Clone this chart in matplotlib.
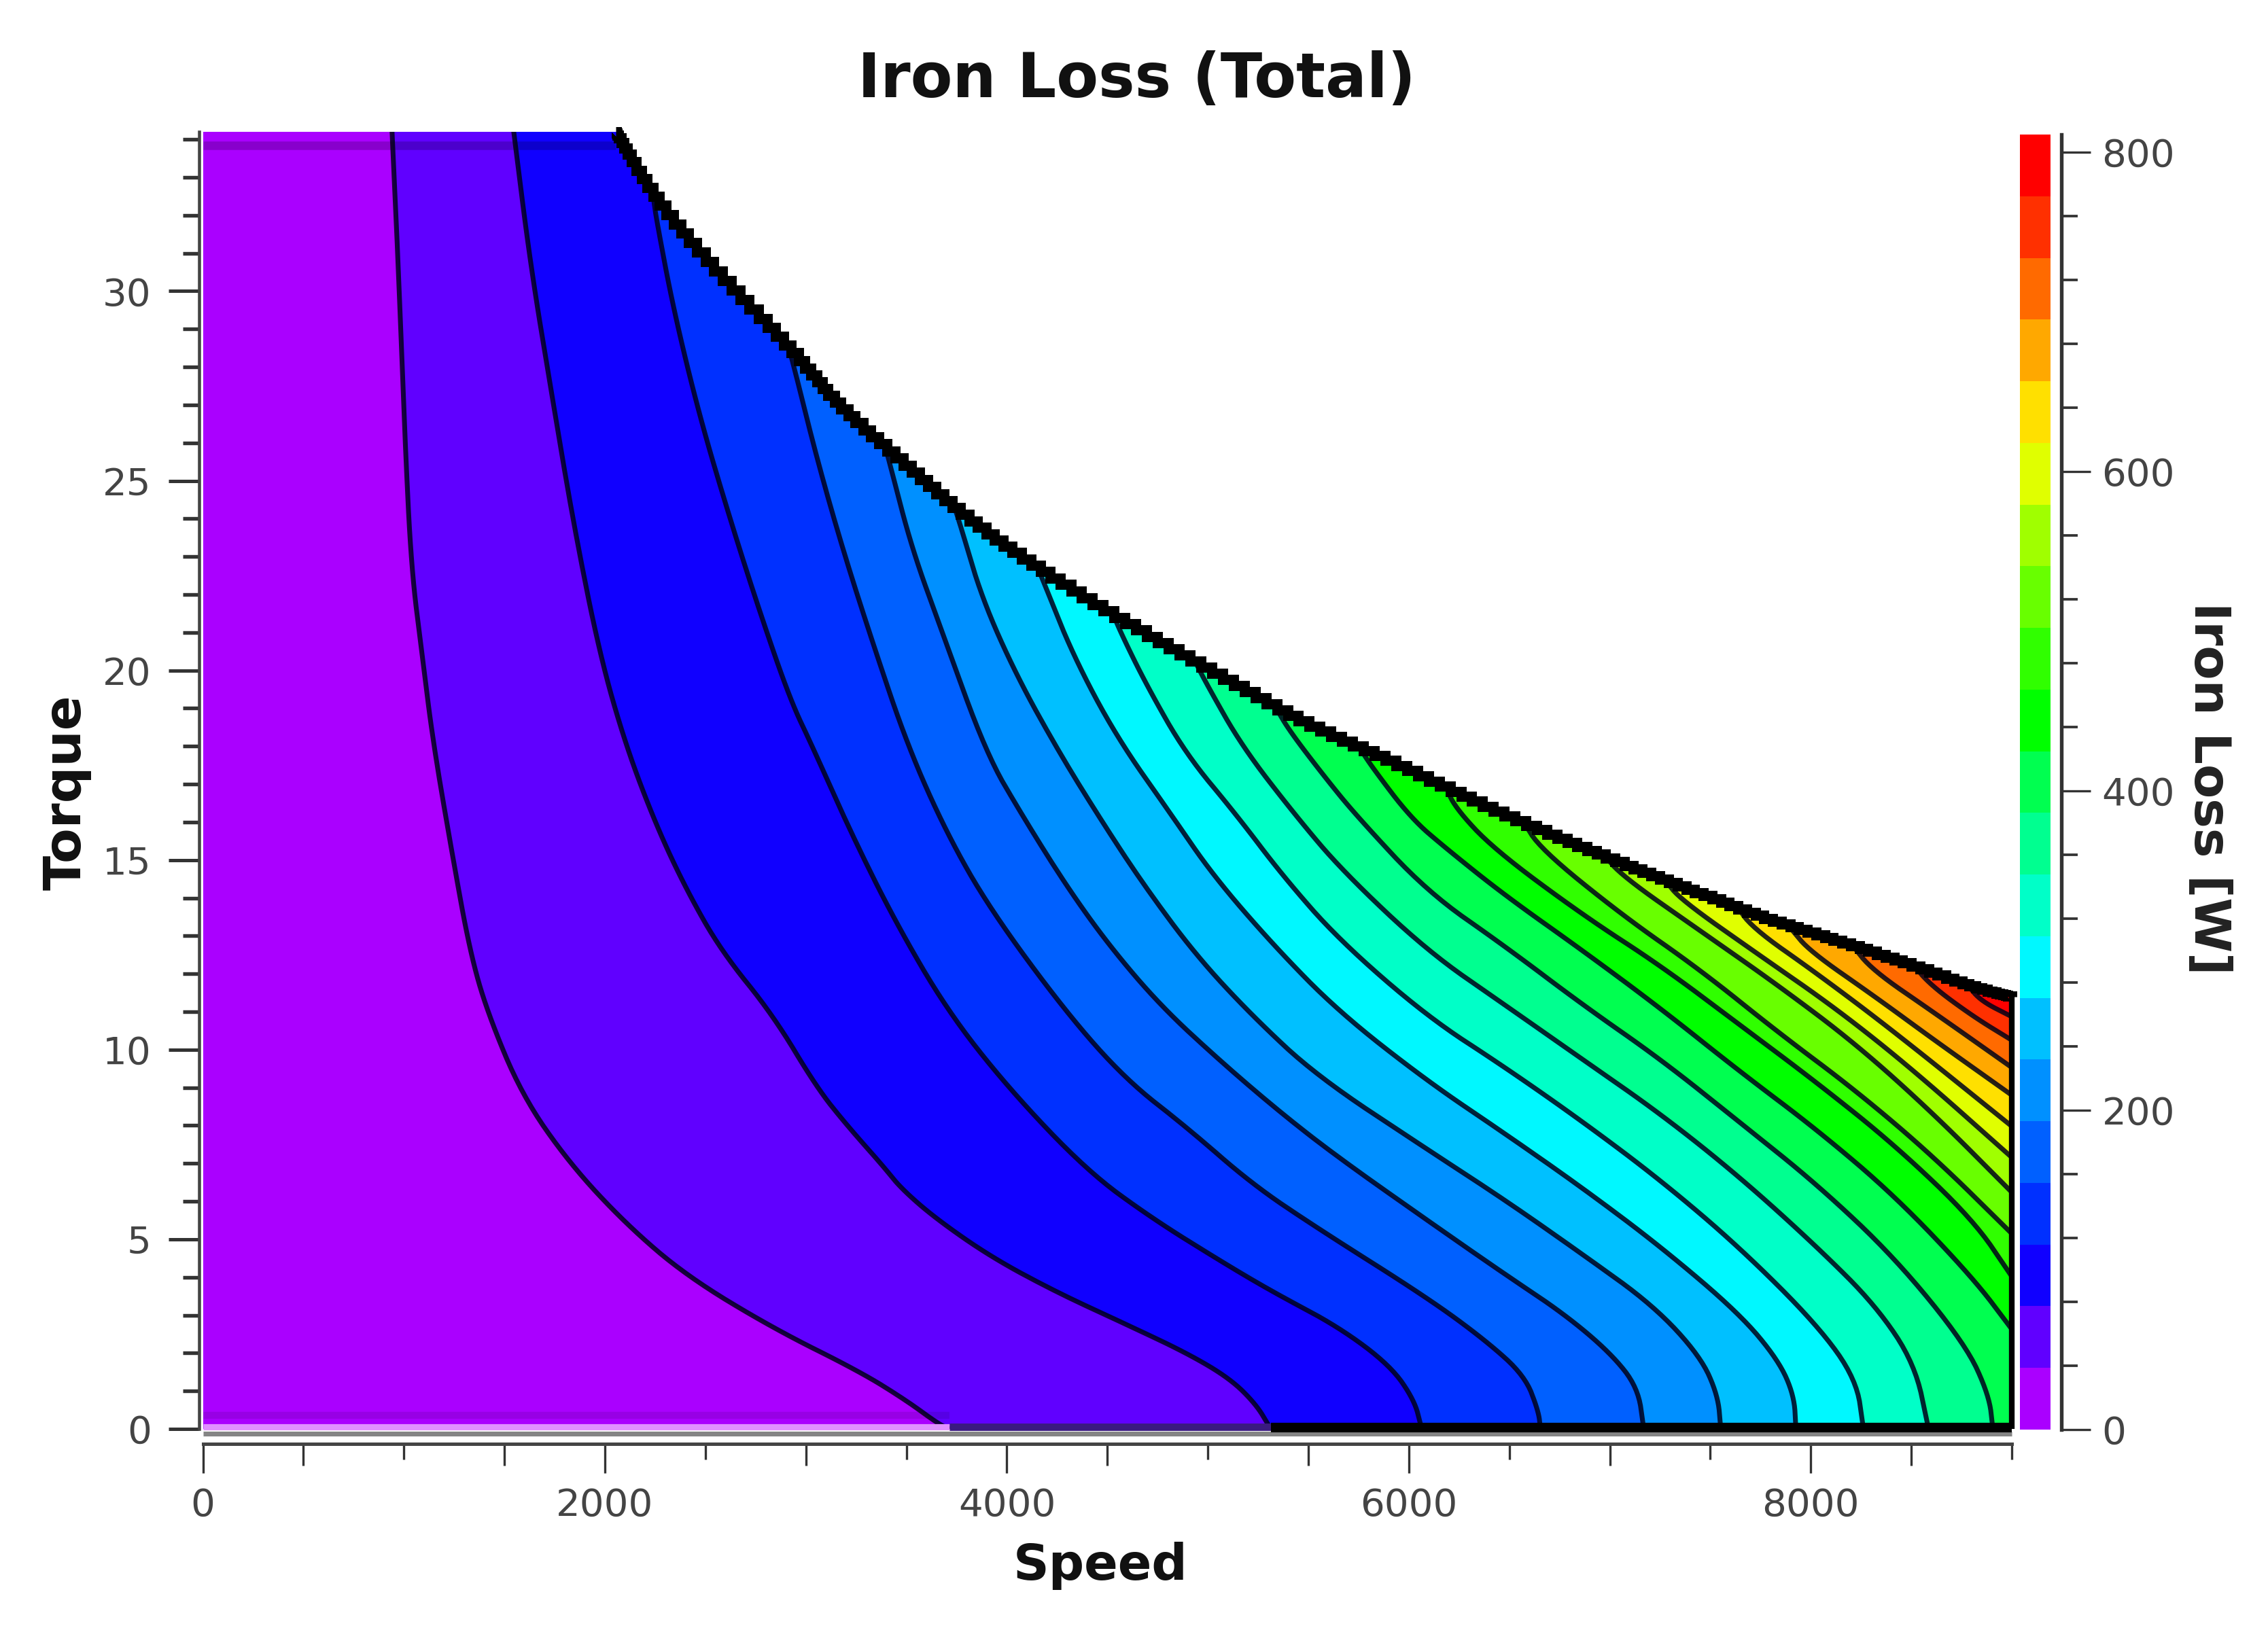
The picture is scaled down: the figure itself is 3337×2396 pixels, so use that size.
import numpy as np
import matplotlib
matplotlib.use("Agg")
import matplotlib.pyplot as plt
from matplotlib.colors import ListedColormap
from matplotlib.patches import Polygon

# contour lines, (speed, torque), top to bottom
line_01 = [(940, 34.3), (972, 30.67), (1005, 26.1), (1037, 22.67), (1091, 20.4), (1145, 18.1), (1242, 15.1), (1328, 12.6), (1414, 11), (1587, 8.8), (1824, 7), (2105, 5.4), (2407, 4.03), (2838, 2.65), (3269, 1.51), (3500, 0.75), (3657, 0.14), (3715, 0)]
line_02 = [(1544, 34.3), (1630, 30.67), (1738, 27.2), (1846, 23.8), (1975, 20.4), (2105, 18), (2256, 15.9), (2407, 14.2), (2579, 12.6), (2838, 10.9), (3054, 9), (3205, 8), (3386, 6.92), (3472, 6.35), (3645, 5.55), (3925, 4.52), (4249, 3.6), (4572, 2.81), (4896, 2), (5112, 1.32), (5241, 0.64), (5306, 0.06), (5315, 0)]
line_03 = [(2240, 32.5), (2256, 31.9), (2342, 29.5), (2471, 26.7), (2622, 24), (2773, 21.5), (2924, 19.2), (3032, 18), (3226, 15.7), (3442, 13.4), (3701, 11.05), (4005, 9), (4400, 6.8), (4723, 5.55), (5068, 4.41), (5327, 3.6), (5651, 2.69), (5910, 1.66), (6028, 0.75), (6061, 0.06), (6065, 0)]
line_04 = [(2905, 28.7), (2946, 27.9), (3054, 25.6), (3183, 23.2), (3334, 20.7), (3507, 18), (3701, 15.7), (3917, 13.7), (4292, 11), (4594, 9.2), (4896, 7.95), (5219, 6.46), (5543, 5.3), (6092, 3.46), (6383, 2.33), (6577, 1.4), (6645, 0.47), (6655, 0)]
line_05 = [(3380, 26.2), (3420, 25.4), (3528, 23.2), (3679, 21), (3898, 17.8), (4076, 16.18), (4292, 14.35), (4508, 12.75), (4766, 11.15), (5068, 9.67), (5371, 8.3), (5651, 7.15), (6092, 5.5), (6480, 4.07), (6771, 3.04), (7004, 2), (7140, 1.09), (7169, 0)]
line_06 = [(3720, 24.6), (3768, 23.85), (3876, 21.9), (4049, 19.85), (4264, 17.8), (4475, 16), (4680, 14.35), (4939, 12.5), (5219, 10.9), (5543, 9.3), (6092, 7.37), (6480, 6.03), (6868, 4.59), (7218, 3.25), (7451, 1.91), (7538, 0.88), (7552, 0)]
line_07 = [(4130, 23), (4178, 22.4), (4329, 20.4), (4545, 18.25), (4820, 16.18), (5025, 14.6), (5327, 12.75), (5651, 11), (6092, 9.17), (6480, 7.78), (6868, 6.34), (7257, 4.79), (7645, 3.04), (7839, 1.81), (7917, 0.88), (7926, 0)]
line_08 = [(4520, 21.6), (4566, 21), (4696, 19.6), (4890, 17.8), (5144, 16.18), (5370, 14.6), (5651, 12.9), (6092, 10.87), (6480, 9.53), (6868, 8.09), (7257, 6.54), (7645, 4.79), (8033, 2.74), (8227, 1.3), (8262, 0)]
line_09 = [(4930, 20.3), (4998, 19.6), (5170, 18), (5435, 16.18), (5672, 14.7), (6092, 12.6), (6480, 11.17), (6868, 9.73), (7257, 8.29), (7645, 6.65), (8033, 4.79), (8324, 3.25), (8518, 1.71), (8586, 0)]
line_10 = [(5340, 19), (5407, 18.4), (5580, 17.2), (5737, 16.18), (6092, 14.16), (6480, 12.72), (6868, 11.17), (7257, 9.73), (7645, 8.09), (8033, 6.44), (8421, 4.5), (8771, 2.22), (8887, 0.88), (8906, 0)]
line_11 = [(5750, 18), (5817, 17.45), (6011, 16.1), (6189, 15.29), (6480, 14.06), (6868, 12.6), (7257, 11.07), (7645, 9.43), (8033, 7.88), (8421, 6.13), (8809, 3.97), (9000, 2.63)]
line_12 = [(6180, 17), (6227, 16.4), (6422, 15.29), (6868, 13.54), (7257, 12.2), (7645, 10.66), (8033, 9.12), (8421, 7.47), (8809, 5.51), (9000, 4.02)]
line_13 = [(6560, 16.1), (6655, 15.29), (7063, 13.54), (7451, 12.1), (7839, 10.45), (8227, 8.91), (8615, 7.16), (9000, 5.15)]
line_14 = [(6960, 15.2), (7063, 14.57), (7451, 13.13), (7839, 11.69), (8227, 10.14), (8615, 8.29), (9000, 6.24)]
line_15 = [(7270, 14.5), (7354, 13.95), (7742, 12.5), (8130, 11.07), (8518, 9.43), (9000, 7.16)]
line_16 = [(7620, 13.9), (7703, 13.23), (8033, 12), (8421, 10.45), (9000, 7.98)]
line_17 = [(7900, 13.2), (7994, 12.6), (8324, 11.38), (8615, 10.25), (9000, 8.8)]
line_18 = [(8200, 12.8), (8305, 12.1), (8615, 10.97), (9000, 9.53)]
line_19 = [(8500, 12.3), (8596, 11.7), (8809, 10.87), (9000, 10.25)]
line_20 = [(8780, 11.7), (8848, 11.28), (9000, 10.87)]

contour_lines = [line_01, line_02, line_03, line_04, line_05, line_06, line_07, line_08, line_09, line_10,
                 line_11, line_12, line_13, line_14, line_15, line_16, line_17, line_18, line_19, line_20]

# outer limit of the map
limit_speed = [2055, 2255, 2579, 2946, 3161, 3485, 3809, 4156, 4588, 5019, 5451, 5882, 6313, 6745, 7120, 7465, 7810, 8155, 8500, 8845, 9000]
limit_torque = [34.2, 32.4, 30.4, 28.4, 27, 25.5, 24, 22.7, 21.3, 20, 18.7, 17.7, 16.6, 15.6, 14.8, 14.1, 13.4, 12.85, 12.25, 11.6, 11.4]

band_colors = ['#aa00ff', '#6000ff', '#1000ff', '#0030ff', '#0060ff', '#0090ff', '#00c0ff', '#00f8ff',
               '#00ffc8', '#00ff90', '#00ff50', '#00ff00', '#30ff00', '#68ff00', '#a0ff00', '#e0ff00',
               '#ffe000', '#ffa800', '#ff6a00', '#ff3000', '#ff0000']
bar_top = 811

speed_major = [0, 2000, 4000, 6000, 8000]
torque_major = [0, 5, 10, 15, 20, 25, 30]
loss_major = [0, 200, 400, 600, 800]

W, H = 3337, 2396


def smooth(points, rounds=3):
    # corner cutting so the read points draw as a soft curve
    pts = np.array(points, dtype=float)
    for _ in range(rounds):
        a = 0.75 * pts[:-1] + 0.25 * pts[1:]
        b = 0.25 * pts[:-1] + 0.75 * pts[1:]
        mid = np.empty((2 * len(a), 2))
        mid[0::2] = a
        mid[1::2] = b
        pts = np.vstack([pts[0], mid, pts[-1]])
    return pts


fig = plt.figure(figsize=(W / 300, H / 300), dpi=300, facecolor='white')
ax = fig.add_axes([298.6 / W, 1 - 2103 / H, 2661.4 / W, 1909 / H])
ax.set_xlim(0, 9000)
ax.set_ylim(0, 34.2)

limit_curve = smooth(list(zip(limit_speed, limit_torque)), rounds=3)
outline = np.vstack([[(0, 0), (0, 34.2)], limit_curve, [(9000, 0)]])
region = Polygon(outline, closed=True, facecolor=band_colors[0], edgecolor='none', zorder=1)
ax.add_patch(region)

# paint each band from its line rightwards, higher bands over lower ones
for i, line in enumerate(contour_lines):
    curve = smooth(line)
    x0, y_end = curve[0, 0], curve[-1, 1]
    poly = np.vstack([curve, [(9000, y_end), (9000, 40), (x0, 40)]])
    p = Polygon(poly, closed=True, facecolor=band_colors[i + 1], edgecolor='none', zorder=2 + i * 0.01)
    ax.add_patch(p)
    p.set_clip_path(region)

for line in contour_lines:
    curve = smooth(line)
    ln, = ax.plot(curve[:, 0], curve[:, 1], color='#000018', alpha=0.85, lw=1.7, zorder=3)
    ln.set_clip_path(region)

# darker strips along the top and bottom of the map
ax.plot([0, limit_speed[0]], [33.85, 33.85], color='black', alpha=0.2, lw=3, zorder=3.5, solid_capstyle='butt')
ax.plot([0, line_01[-1][0]], [0.35, 0.35], color='black', alpha=0.1, lw=2.5, zorder=3.5, solid_capstyle='butt')

# bottom edge of the map
ax.plot([0, 9000], [-0.13, -0.13], color='#858585', lw=1.7, zorder=4, clip_on=False, solid_capstyle='butt')
ax.plot([0, line_01[-1][0]], [0.06, 0.06], color='#e090ff', lw=2.2, zorder=4, clip_on=False, solid_capstyle='butt')
ax.plot([line_01[-1][0], line_02[-1][0]], [0.06, 0.06], color='#3a1a80', lw=2.6, zorder=4, clip_on=False, solid_capstyle='butt')
ax.plot([line_02[-1][0], 9000], [0.04, 0.04], color='black', lw=3.4, zorder=4.1, clip_on=False, solid_capstyle='butt')

# outer limit and right edge, stepped like the coarse grid of the map
ax.plot(limit_curve[:, 0], limit_curve[:, 1], color='black', lw=3.6, zorder=5, clip_on=False,
        drawstyle='steps-mid', solid_joinstyle='miter', solid_capstyle='butt')
ax.plot([9000, 9000], [0, limit_torque[-1]], color='black', lw=2.0, zorder=5, clip_on=False, solid_capstyle='butt')

for side in ['top', 'right']:
    ax.spines[side].set_visible(False)
ax.spines['left'].set_position(('outward', 1.4))
ax.spines['bottom'].set_position(('outward', 5.3))
ax.spines['left'].set_linewidth(1.1)
ax.spines['bottom'].set_linewidth(1.2)
ax.spines['left'].set_color('#444444')
ax.spines['bottom'].set_color('#444444')

ax.set_xticks(speed_major)
ax.set_xticks(np.arange(0, 9001, 500), minor=True)
ax.set_yticks(torque_major)
ax.set_yticks(np.arange(0, 35, 1), minor=True)
ax.tick_params(axis='x', which='major', length=10.3, width=0.8, color='#333333', labelsize=13.5, labelcolor='#444444', pad=5)
ax.tick_params(axis='x', which='minor', length=5.5, width=0.8, color='#333333')
ax.tick_params(axis='y', which='major', length=10.8, width=1.2, color='#333333', labelsize=13.5, labelcolor='#444444', pad=6)
ax.tick_params(axis='y', which='minor', length=5.8, width=1.3, color='#333333')
for tick, pos in zip(ax.xaxis.get_minor_ticks(), np.arange(0, 9001, 500)):
    if pos % 1000 == 0:
        tick.tick1line.set_markersize(7.7)

# colour bar
cax = fig.add_axes([2972 / W, 1 - 2104 / H, 45 / W, 1906 / H])
band_edges = np.linspace(0, bar_top, len(band_colors) + 1)
cax.pcolormesh([0, 1], band_edges, np.arange(len(band_colors)).reshape(-1, 1),
               cmap=ListedColormap(band_colors), shading='flat')
cax.set_xlim(0, 1)
cax.set_ylim(0, bar_top)
cax.set_xticks([])
for side in ['top', 'bottom', 'left']:
    cax.spines[side].set_visible(False)
cax.spines['right'].set_position(('outward', 3.8))
cax.spines['right'].set_linewidth(1.3)
cax.spines['right'].set_color('#333333')
cax.yaxis.tick_right()
cax.set_yticks(loss_major)
cax.set_yticks(np.arange(0, 801, 40), minor=True)
cax.tick_params(axis='y', which='major', length=10.3, width=0.8, color='#333333', labelsize=13.5, labelcolor='#444444', pad=4)
cax.tick_params(axis='y', which='minor', length=5.8, width=0.9, color='#333333')

fig.text(1672 / W, 1 - 118 / H, 'Iron Loss (Total)', fontsize=21.6, fontweight='bold', color='#111111', ha='center', va='center')
fig.text(1619 / W, 1 - 2304 / H, 'Speed', fontsize=17.6, fontweight='bold', color='#111111', ha='center', va='center')
fig.text(98 / W, 1 - 1166 / H, 'Torque', fontsize=18, fontweight='bold', color='#111111', rotation=90, ha='center', va='center')
fig.text(3249 / W, 1 - 1160 / H, 'Iron Loss [W]', fontsize=17.6, fontweight='bold', color='#222222', rotation=270, ha='center', va='center')

fig.savefig('out.png', dpi=300)
